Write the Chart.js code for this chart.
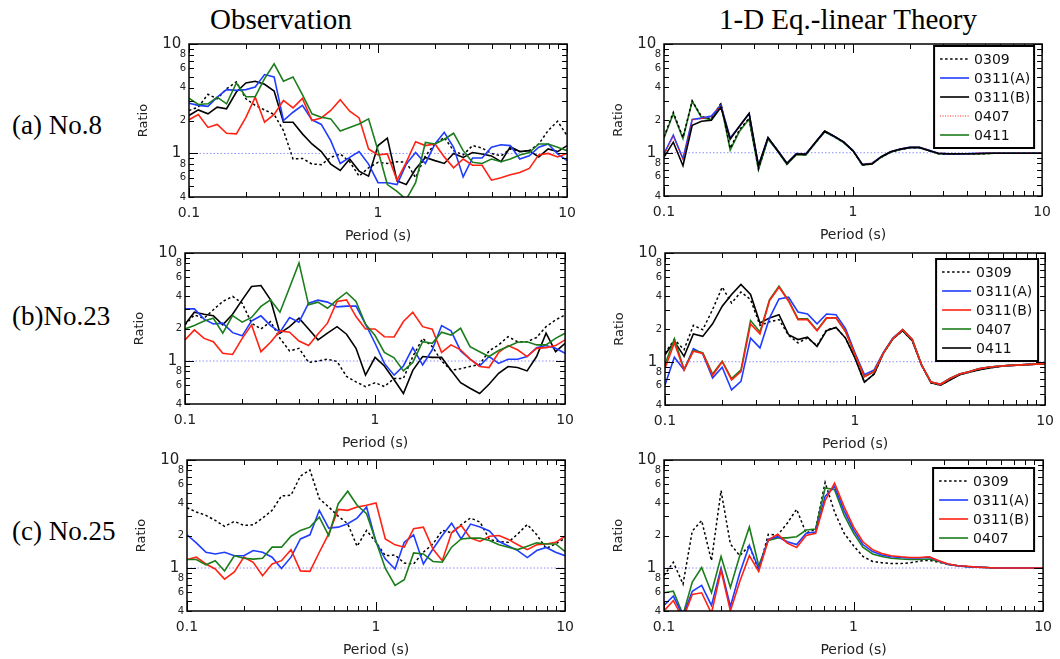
<!DOCTYPE html>
<html>
<head>
<meta charset="utf-8">
<script src="https://cdn.jsdelivr.net/npm/chart.js@4.4.0/dist/chart.umd.min.js"></script>
<style>
  html, body { margin: 0; padding: 0; background: #fff; }
  body { width: 1060px; height: 659px; position: relative; overflow: hidden; }
  canvas { position: absolute; }
  .serif { position: absolute; font-family: "Liberation Serif", "Times New Roman", serif; color: #000; white-space: nowrap; line-height: 1; }
  .head { font-size: 29px; }
  .row { font-size: 27px; }
</style>
</head>
<body>
<div class="serif head" style="left:210px; top:5px;">Observation</div>
<div class="serif head" style="left:719px; top:5px;">1-D Eq.-linear Theory</div>
<div class="serif row" style="left:12px; top:112px;">(a) No.8</div>
<div class="serif row" style="left:12px; top:303px;">(b)No.23</div>
<div class="serif row" style="left:12px; top:518px;">(c) No.25</div>

<script>
// Periods (s): 20 points per decade from 0.1 to 10 s
const periods = [0.1, 0.112, 0.126, 0.141, 0.158, 0.178, 0.2, 0.224, 0.251, 0.282,
  0.316, 0.355, 0.398, 0.447, 0.501, 0.562, 0.631, 0.708, 0.794, 0.891,
  1.0, 1.12, 1.26, 1.41, 1.58, 1.78, 2.0, 2.24, 2.51, 2.82,
  3.16, 3.55, 3.98, 4.47, 5.01, 5.62, 6.31, 7.08, 7.94, 8.91, 10.0];

// Axis tick values and labels
const xTickValues = [0.1, 0.2, 0.3, 0.4, 0.5, 0.6, 0.7, 0.8, 0.9, 1, 2, 3, 4, 5, 6, 7, 8, 9, 10];
const xTickLabels = { 0.1: '0.1', 1: '1', 10: '10' };
const yTickValues = [0.4, 0.5, 0.6, 0.7, 0.8, 0.9, 1, 2, 3, 4, 5, 6, 7, 8, 9, 10];
const yTickLabels = { 0.4: '4', 0.6: '6', 0.8: '8', 1: '1 ', 2: '2', 4: '4', 6: '6', 8: '8', 10: '10 ' };

// ---- (a) No.8 : observed ratios ----
const aObs0309  = [2.47, 2.65, 3.47, 3.16, 3.9, 4.5, 3.16, 2.75, 2.5, 2.27, 1.62, 0.89, 0.9, 0.8, 0.79, 0.92, 0.99, 0.84, 0.62, 0.74, 0.83, 0.81, 0.84, 0.83, 0.6, 0.95, 1.22, 1.4, 1.06, 0.97, 1.18, 1.12, 1.0, 0.95, 1.1, 1.04, 1.06, 1.22, 1.62, 1.97, 1.45];
const aObs0311A = [2.88, 2.75, 2.69, 3.27, 3.83, 3.77, 3.83, 4.05, 5.26, 5.0, 2.0, 2.38, 2.75, 2.03, 1.84, 1.31, 0.81, 0.92, 1.04, 0.8, 0.54, 0.54, 0.52, 0.8, 1.02, 0.81, 1.22, 1.56, 1.14, 0.61, 0.91, 0.91, 1.14, 1.2, 1.18, 0.89, 0.95, 1.14, 1.22, 0.99, 0.86];
const aObs0311B = [2.22, 2.5, 2.3, 2.65, 2.56, 3.64, 4.4, 4.57, 4.28, 3.72, 1.93, 1.93, 1.51, 1.22, 1.04, 0.8, 0.7, 0.89, 0.69, 0.62, 1.18, 1.38, 0.56, 0.52, 0.72, 0.92, 0.86, 0.81, 1.0, 0.92, 1.02, 0.99, 0.95, 0.84, 1.15, 1.04, 1.06, 0.93, 1.1, 1.04, 1.18];
const aObs0407  = [2.03, 2.27, 1.73, 1.84, 1.53, 1.51, 2.14, 3.27, 1.93, 2.27, 3.05, 2.61, 3.18, 2.0, 2.11, 2.47, 3.1, 2.43, 2.11, 1.1, 0.97, 0.99, 0.57, 0.83, 1.28, 1.18, 1.22, 0.93, 0.74, 0.89, 0.78, 0.78, 0.57, 0.6, 0.64, 0.67, 0.73, 0.97, 1.0, 0.93, 1.0];
const aObs0411  = [3.2, 2.8, 2.84, 3.27, 2.84, 4.4, 3.3, 3.3, 4.83, 6.6, 4.57, 5.0, 3.44, 2.3, 2.14, 2.07, 1.6, 1.73, 1.86, 2.07, 1.06, 0.52, 0.45, 0.38, 0.54, 1.26, 1.22, 1.35, 1.53, 1.06, 0.83, 0.81, 0.89, 0.84, 0.89, 0.97, 1.02, 1.22, 1.22, 1.14, 1.06];

// ---- (a) No.8 : 1-D equivalent-linear theory ----
const aTh0309  = [1.4, 2.35, 1.38, 3.0, 2.15, 2.05, 2.85, 1.1, 1.63, 2.08, 0.71, 1.37, 1.06, 0.79, 0.97, 0.96, 1.23, 1.57, 1.41, 1.25, 1.04, 0.77, 0.79, 0.91, 1.01, 1.07, 1.11, 1.11, 1.05, 0.98, 0.97, 0.97, 0.98, 0.98, 0.98, 0.99, 0.99, 0.99, 0.99, 0.99, 0.99];
const aTh0311A = [0.98, 1.45, 0.88, 2.02, 2.08, 2.17, 2.72, 1.37, 1.75, 2.3, 0.76, 1.37, 1.06, 0.8, 0.98, 0.97, 1.24, 1.58, 1.42, 1.26, 1.05, 0.78, 0.8, 0.92, 1.02, 1.08, 1.12, 1.12, 1.06, 0.99, 0.98, 0.98, 0.98, 0.99, 0.99, 0.99, 0.99, 0.99, 0.99, 0.99, 0.99];
const aTh0311B = [0.91, 1.25, 0.76, 1.79, 1.95, 1.99, 2.62, 1.33, 1.76, 2.3, 0.76, 1.38, 1.05, 0.8, 0.97, 0.97, 1.24, 1.58, 1.42, 1.26, 1.04, 0.78, 0.79, 0.92, 1.02, 1.08, 1.12, 1.12, 1.05, 0.99, 0.98, 0.98, 0.98, 0.98, 0.99, 0.99, 0.99, 0.99, 0.99, 0.99, 0.99];
const aTh0407  = [0.95, 1.42, 0.86, 2.0, 2.05, 2.15, 2.7, 1.35, 1.74, 2.28, 0.76, 1.37, 1.06, 0.8, 0.98, 0.97, 1.24, 1.58, 1.42, 1.26, 1.05, 0.78, 0.8, 0.92, 1.02, 1.08, 1.12, 1.12, 1.06, 0.99, 0.98, 0.98, 0.98, 0.99, 0.99, 0.99, 0.99, 0.99, 0.99, 0.99, 0.99];
const aTh0411  = [1.37, 2.29, 1.35, 2.98, 2.1, 2.02, 2.8, 1.06, 1.58, 2.04, 0.7, 1.34, 1.04, 0.78, 0.96, 0.95, 1.22, 1.56, 1.4, 1.24, 1.04, 0.77, 0.79, 0.91, 1.01, 1.07, 1.11, 1.11, 1.05, 0.98, 0.97, 0.97, 0.98, 0.98, 0.98, 0.99, 0.99, 0.99, 0.99, 0.99, 0.99];

// ---- (b) No.23 : observed ratios ----
const bObs0309  = [2.16, 2.67, 2.49, 2.98, 3.56, 3.96, 3.43, 2.24, 1.98, 2.32, 1.62, 1.24, 1.31, 0.97, 1.0, 1.04, 0.99, 0.72, 0.64, 0.58, 0.63, 0.58, 0.69, 0.69, 1.1, 1.62, 1.36, 1.0, 0.82, 0.85, 0.89, 0.93, 1.24, 1.41, 1.68, 1.51, 1.51, 1.65, 2.08, 2.4, 2.67];
const bObs0311A = [3.04, 3.04, 2.44, 2.2, 2.24, 1.83, 1.71, 2.35, 2.62, 2.13, 1.85, 2.53, 2.29, 3.43, 3.66, 3.51, 3.17, 3.22, 3.22, 2.19, 1.46, 0.95, 0.74, 0.9, 1.33, 0.92, 1.27, 2.13, 1.9, 1.24, 1.04, 0.9, 1.1, 0.95, 1.04, 1.04, 1.1, 1.33, 1.39, 1.31, 1.18];
const bObs0311B = [1.57, 1.94, 1.62, 1.51, 1.18, 1.15, 1.62, 2.16, 1.22, 1.49, 1.9, 1.85, 1.53, 1.39, 1.78, 2.24, 3.56, 3.68, 2.58, 1.98, 1.98, 1.68, 1.67, 2.32, 2.83, 2.08, 1.97, 1.2, 1.41, 1.27, 1.04, 0.89, 0.87, 1.2, 1.39, 1.27, 1.1, 1.31, 1.33, 1.39, 1.57];
const bObs0407  = [1.98, 2.13, 2.35, 2.49, 1.81, 2.63, 2.29, 2.53, 3.2, 3.68, 2.83, 4.8, 8.1, 3.31, 3.51, 3.08, 3.68, 4.31, 3.56, 2.19, 1.72, 1.2, 1.07, 0.81, 0.97, 1.51, 1.46, 1.85, 1.74, 2.01, 1.36, 1.22, 1.1, 1.25, 1.36, 1.49, 1.51, 1.41, 1.41, 1.62, 1.81];
const bObs0411  = [2.19, 2.83, 2.71, 2.63, 2.16, 2.71, 3.68, 4.9, 5.0, 3.68, 1.81, 2.08, 2.49, 1.98, 1.57, 1.81, 2.08, 1.77, 1.31, 0.74, 1.08, 0.9, 0.67, 0.5, 0.82, 1.1, 1.08, 1.08, 0.82, 0.63, 0.56, 0.5, 0.61, 0.77, 0.89, 0.87, 0.81, 1.1, 1.81, 1.22, 1.46];

// ---- (b) No.23 : 1-D equivalent-linear theory ----
const bTh0309  = [1.2, 1.6, 1.29, 2.16, 1.97, 3.02, 4.85, 3.47, 4.38, 3.73, 2.16, 2.33, 2.44, 1.75, 1.49, 1.65, 1.41, 1.97, 2.07, 1.65, 1.08, 0.65, 0.77, 1.2, 1.62, 1.93, 1.56, 0.93, 0.64, 0.61, 0.68, 0.76, 0.8, 0.84, 0.87, 0.9, 0.92, 0.93, 0.94, 0.95, 0.95];
const bTh0311A = [0.61, 1.1, 0.84, 1.32, 1.18, 0.71, 0.89, 0.55, 0.66, 1.65, 1.34, 2.53, 3.78, 3.92, 2.87, 2.75, 2.23, 2.75, 2.71, 2.02, 1.2, 0.76, 0.84, 1.22, 1.65, 1.97, 1.6, 0.93, 0.65, 0.62, 0.7, 0.77, 0.81, 0.86, 0.89, 0.91, 0.92, 0.93, 0.94, 0.95, 0.96];
const bTh0311B = [0.87, 1.49, 0.84, 1.25, 1.19, 0.75, 1.0, 0.68, 0.81, 2.23, 1.8, 3.66, 4.85, 3.6, 2.44, 2.44, 1.93, 2.53, 2.53, 1.9, 1.16, 0.73, 0.81, 1.2, 1.63, 1.97, 1.6, 0.93, 0.65, 0.62, 0.7, 0.77, 0.81, 0.86, 0.89, 0.91, 0.92, 0.93, 0.94, 0.95, 0.96];
const bTh0407  = [0.94, 1.63, 0.85, 1.27, 1.21, 0.77, 1.01, 0.7, 0.84, 2.39, 1.88, 3.72, 4.95, 3.66, 2.48, 2.48, 1.95, 2.53, 2.53, 1.9, 1.16, 0.73, 0.81, 1.2, 1.63, 1.97, 1.6, 0.93, 0.65, 0.62, 0.7, 0.77, 0.81, 0.86, 0.89, 0.91, 0.92, 0.93, 0.94, 0.95, 0.96];
const bTh0411  = [1.16, 1.54, 1.12, 1.8, 1.71, 2.23, 3.24, 4.15, 5.13, 4.15, 2.27, 2.53, 2.71, 1.77, 1.6, 1.68, 1.38, 1.93, 2.07, 1.65, 1.08, 0.65, 0.77, 1.2, 1.62, 1.93, 1.56, 0.93, 0.64, 0.61, 0.68, 0.76, 0.8, 0.84, 0.87, 0.9, 0.92, 0.93, 0.94, 0.95, 0.95];

// ---- (c) No.25 : observed ratios ----
const cObs0309  = [3.62, 3.3, 3.07, 2.76, 2.43, 2.7, 2.48, 2.51, 2.9, 3.42, 4.65, 4.72, 7.1, 8.08, 4.39, 3.67, 3.02, 2.57, 1.59, 2.23, 1.73, 1.3, 1.32, 1.11, 1.09, 1.4, 1.67, 2.23, 2.12, 2.52, 2.9, 2.66, 1.84, 1.76, 1.73, 2.07, 2.53, 2.03, 1.52, 1.67, 1.89];
const cObs0311A = [2.03, 1.71, 1.4, 1.35, 1.4, 1.3, 1.3, 1.45, 1.4, 1.26, 0.99, 1.26, 1.86, 2.03, 3.42, 2.34, 2.39, 2.57, 2.9, 3.67, 1.73, 1.21, 0.98, 1.73, 2.03, 1.09, 1.5, 2.0, 2.6, 1.86, 2.55, 2.4, 2.2, 1.76, 1.6, 1.45, 1.25, 1.45, 1.55, 1.4, 1.3];
const cObs0311B = [1.2, 1.26, 1.09, 0.98, 0.79, 0.92, 1.26, 1.13, 0.85, 1.09, 1.17, 1.48, 0.94, 0.93, 1.4, 2.07, 3.49, 3.42, 3.67, 3.81, 4.0, 1.86, 1.64, 1.56, 2.31, 2.39, 1.5, 1.17, 2.12, 2.48, 1.89, 1.76, 1.97, 2.0, 1.84, 1.64, 1.48, 1.64, 1.67, 1.73, 1.97];
const cObs0407  = [1.2, 1.2, 1.07, 1.17, 0.94, 1.3, 1.23, 1.21, 1.23, 1.56, 1.56, 1.97, 2.23, 2.39, 2.96, 2.0, 3.94, 5.14, 3.81, 3.18, 1.76, 0.99, 0.69, 0.78, 1.38, 1.35, 1.15, 1.13, 1.56, 1.86, 1.89, 1.89, 1.8, 1.64, 1.56, 1.48, 1.59, 1.71, 1.67, 1.67, 1.42];

// ---- (c) No.25 : 1-D equivalent-linear theory ----
const cTh0309  = [0.85, 1.13, 0.71, 2.2, 2.75, 1.17, 5.2, 1.67, 1.3, 1.61, 0.95, 2.05, 2.02, 2.6, 3.5, 2.1, 2.3, 6.2, 3.3, 2.1, 1.61, 1.28, 1.15, 1.12, 1.1, 1.1, 1.12, 1.16, 1.18, 1.13, 1.08, 1.05, 1.03, 1.02, 1.01, 1.0, 1.0, 1.0, 1.0, 1.0, 1.0];
const cTh0311A = [0.45, 0.55, 0.36, 0.61, 0.69, 0.45, 1.0, 0.44, 0.9, 1.62, 0.98, 1.85, 1.95, 1.75, 1.65, 2.1, 2.15, 4.6, 5.7, 3.4, 2.25, 1.65, 1.42, 1.32, 1.27, 1.25, 1.24, 1.24, 1.26, 1.16, 1.08, 1.05, 1.03, 1.02, 1.01, 1.0, 1.0, 1.0, 1.0, 1.0, 1.0];
const cTh0311B = [0.4, 0.5, 0.34, 0.57, 0.59, 0.38, 0.95, 0.4, 0.75, 1.3, 0.93, 1.82, 2.05, 1.7, 1.55, 2.0, 2.1, 4.2, 6.1, 3.7, 2.4, 1.75, 1.48, 1.36, 1.3, 1.27, 1.25, 1.25, 1.27, 1.17, 1.09, 1.05, 1.04, 1.02, 1.01, 1.0, 1.0, 1.0, 1.0, 1.0, 1.0];
const cTh0407  = [0.59, 0.61, 0.37, 0.74, 1.01, 0.59, 1.28, 0.66, 1.3, 2.4, 1.05, 1.8, 1.9, 1.9, 1.95, 2.25, 2.3, 5.5, 5.3, 3.1, 2.1, 1.56, 1.35, 1.28, 1.23, 1.21, 1.2, 1.2, 1.21, 1.15, 1.08, 1.05, 1.03, 1.02, 1.01, 1.0, 1.0, 1.0, 1.0, 1.0, 1.0];

// ---- styling ----
const SANS = "'DejaVu Sans', 'Liberation Sans', sans-serif";
const RED = '#ff2212', BLUE = '#1f3cff', GREEN = '#1b7d1b', BLACK = '#000000';
const DOT = [2.5, 2.5];

function isDecade(v) {
  const l = Math.log10(v);
  return Math.abs(l - Math.round(l)) < 1e-6;
}

function series(label, color, values, opts = {}) {
  return { label, color, values, dash: opts.dash || [], width: opts.width || 1.6, z: opts.z || 0 };
}

// Inward tick marks on all four sides plus the black frame
const framePlugin = {
  id: 'frameTicks',
  afterDatasetsDraw(chart) {
    const { ctx, chartArea: a, scales: { x, y } } = chart;
    ctx.save();
    ctx.strokeStyle = '#000';
    ctx.lineWidth = 1;
    ctx.beginPath();
    x.ticks.forEach(t => {
      const px = Math.round(x.getPixelForValue(t.value)) + 0.5;
      const len = isDecade(t.value) ? 9 : 5;
      ctx.moveTo(px, a.bottom); ctx.lineTo(px, a.bottom - len);
      ctx.moveTo(px, a.top); ctx.lineTo(px, a.top + len);
    });
    y.ticks.forEach(t => {
      const py = Math.round(y.getPixelForValue(t.value)) + 0.5;
      const len = isDecade(t.value) ? 9 : 5;
      ctx.moveTo(a.left, py); ctx.lineTo(a.left + len, py);
      ctx.moveTo(a.right, py); ctx.lineTo(a.right - len, py);
    });
    ctx.stroke();
    ctx.lineWidth = 1.5;
    ctx.strokeRect(a.left, a.top, a.right - a.left, a.bottom - a.top);
    ctx.restore();
  }
};

// Boxed legend inside the upper-right corner of the plot area
const boxLegendPlugin = {
  id: 'boxLegend',
  afterDraw(chart, args, opts) {
    if (!opts || !opts.show) return;
    const { ctx, chartArea: a } = chart;
    const items = chart.data.datasets.filter(d => d.label).sort((p, q) => p.legendRank - q.legendRank);
    const rowH = 19, padTop = 13;
    const w = opts.width;
    const h = padTop * 2 + (items.length - 1) * rowH;
    const left = a.right - opts.right - w;
    const top = a.top + opts.top;
    ctx.save();
    ctx.fillStyle = '#fff';
    ctx.fillRect(left, top, w, h);
    ctx.strokeStyle = '#000';
    ctx.lineWidth = 2;
    ctx.strokeRect(left, top, w, h);
    ctx.font = '14px ' + SANS;
    ctx.textBaseline = 'middle';
    ctx.textAlign = 'left';
    items.forEach((d, i) => {
      const yy = top + padTop + i * rowH;
      ctx.beginPath();
      ctx.setLineDash(d.borderDash || []);
      ctx.strokeStyle = d.borderColor;
      ctx.lineWidth = d.borderWidth;
      ctx.moveTo(left + 6, yy);
      ctx.lineTo(left + 35, yy);
      ctx.stroke();
      ctx.setLineDash([]);
      ctx.fillStyle = '#111';
      ctx.fillText(d.label, left + 40, yy + 1);
    });
    ctx.restore();
  }
};

const PAD_L = 62, PAD_T = 16, PAD_R = 14, PAD_B = 54;

function makePanel(box, list, legend) {
  const cv = document.createElement('canvas');
  const w = box.r - box.l + PAD_L + PAD_R;
  const h = box.b - box.t + PAD_T + PAD_B;
  cv.width = w; cv.height = h;
  cv.style.width = w + 'px'; cv.style.height = h + 'px';
  cv.style.left = (box.l - PAD_L) + 'px';
  cv.style.top = (box.t - PAD_T) + 'px';
  document.body.appendChild(cv);

  const datasets = list.map((s, i) => ({
    label: s.label,
    data: periods.map((p, k) => ({ x: p, y: s.values[k] })),
    borderColor: s.color,
    borderWidth: s.width,
    borderDash: s.dash,
    pointRadius: 0,
    fill: false,
    tension: 0,
    order: -s.z,
    legendRank: i
  }));
  // Reference line at ratio = 1
  datasets.push({
    label: '',
    data: [{ x: 0.1, y: 1 }, { x: 10, y: 1 }],
    borderColor: '#8f8fff',
    borderWidth: 1,
    borderDash: [1.5, 2],
    pointRadius: 0,
    fill: false,
    order: 100
  });

  new Chart(cv, {
    type: 'line',
    data: { datasets },
    plugins: [framePlugin, boxLegendPlugin],
    options: {
      responsive: false,
      animation: false,
      devicePixelRatio: 1,
      layout: { padding: { top: PAD_T, right: PAD_R, left: 0, bottom: 0 } },
      plugins: {
        legend: { display: false },
        tooltip: { enabled: false },
        boxLegend: legend || { show: false }
      },
      scales: {
        x: {
          type: 'logarithmic',
          position: 'bottom',
          min: 0.1, max: 10,
          afterBuildTicks: s => { s.ticks = xTickValues.map(v => ({ value: v })); },
          afterFit: s => { s.height = PAD_B; },
          grid: { display: false, drawTicks: false },
          border: { display: false },
          ticks: {
            autoSkip: false, maxRotation: 0, minRotation: 0, padding: 8,
            color: '#222', font: { family: SANS, size: 14 },
            callback: v => xTickLabels[v] || ''
          },
          title: {
            display: true, text: 'Period (s)', color: '#222',
            font: { family: SANS, size: 14 }, padding: { top: 0, bottom: 6 }
          }
        },
        y: {
          type: 'logarithmic',
          position: 'left',
          min: 0.4, max: 10,
          afterBuildTicks: s => { s.ticks = yTickValues.map(v => ({ value: v })); },
          afterFit: s => { s.width = PAD_L; },
          grid: { display: false, drawTicks: false },
          border: { display: false },
          ticks: {
            autoSkip: false, padding: 3, color: '#222',
            font: ctx => ({ family: SANS, size: (ctx.tick && isDecade(ctx.tick.value)) ? 15 : 10 }),
            callback: v => yTickLabels[v] || ''
          },
          title: {
            display: true, text: 'Ratio', color: '#222',
            font: { family: SANS, size: 13 }, padding: { top: 9, bottom: 0 }
          }
        }
      }
    }
  });
}

// (a) No.8
makePanel({ l: 189, t: 44, r: 570, b: 197 }, [
  series('0309', BLACK, aObs0309, { dash: DOT, width: 1.5, z: 1 }),
  series('0311(A)', BLUE, aObs0311A, { z: 3 }),
  series('0311(B)', BLACK, aObs0311B, { z: 2 }),
  series('0407', RED, aObs0407, { z: 4 }),
  series('0411', GREEN, aObs0411, { z: 5 })
]);
makePanel({ l: 664, t: 44, r: 1045, b: 196 }, [
  series('0309', BLACK, aTh0309, { dash: DOT, width: 1.5, z: 2 }),
  series('0311(A)', BLUE, aTh0311A, { z: 3 }),
  series('0311(B)', BLACK, aTh0311B, { z: 5 }),
  series('0407', RED, aTh0407, { dash: [1, 1.5], width: 1.2, z: 4 }),
  series('0411', GREEN, aTh0411, { z: 1 })
], { show: true, right: 8, top: 2, width: 100 });

// (b) No.23
makePanel({ l: 185, t: 253, r: 568, b: 404 }, [
  series('0309', BLACK, bObs0309, { dash: DOT, width: 1.5, z: 1 }),
  series('0311(A)', BLUE, bObs0311A, { z: 3 }),
  series('0311(B)', RED, bObs0311B, { z: 4 }),
  series('0407', GREEN, bObs0407, { z: 5 }),
  series('0411', BLACK, bObs0411, { z: 2 })
]);
makePanel({ l: 665, t: 253, r: 1048, b: 405 }, [
  series('0309', BLACK, bTh0309, { dash: DOT, width: 1.5, z: 1 }),
  series('0311(A)', BLUE, bTh0311A, { z: 3 }),
  series('0311(B)', RED, bTh0311B, { z: 5 }),
  series('0407', GREEN, bTh0407, { z: 4 }),
  series('0411', BLACK, bTh0411, { z: 2 })
], { show: true, right: 7, top: 6, width: 102 });

// (c) No.25
makePanel({ l: 187, t: 460, r: 568, b: 611 }, [
  series('0309', BLACK, cObs0309, { dash: DOT, width: 1.5, z: 1 }),
  series('0311(A)', BLUE, cObs0311A, { z: 2 }),
  series('0311(B)', RED, cObs0311B, { z: 3 }),
  series('0407', GREEN, cObs0407, { z: 4 })
]);
makePanel({ l: 664, t: 460, r: 1046, b: 611 }, [
  series('0309', BLACK, cTh0309, { dash: DOT, width: 1.5, z: 1 }),
  series('0311(A)', BLUE, cTh0311A, { z: 3 }),
  series('0311(B)', RED, cTh0311B, { z: 4 }),
  series('0407', GREEN, cTh0407, { z: 2 })
], { show: true, right: 9, top: 8, width: 101 });
</script>
</body>
</html>
